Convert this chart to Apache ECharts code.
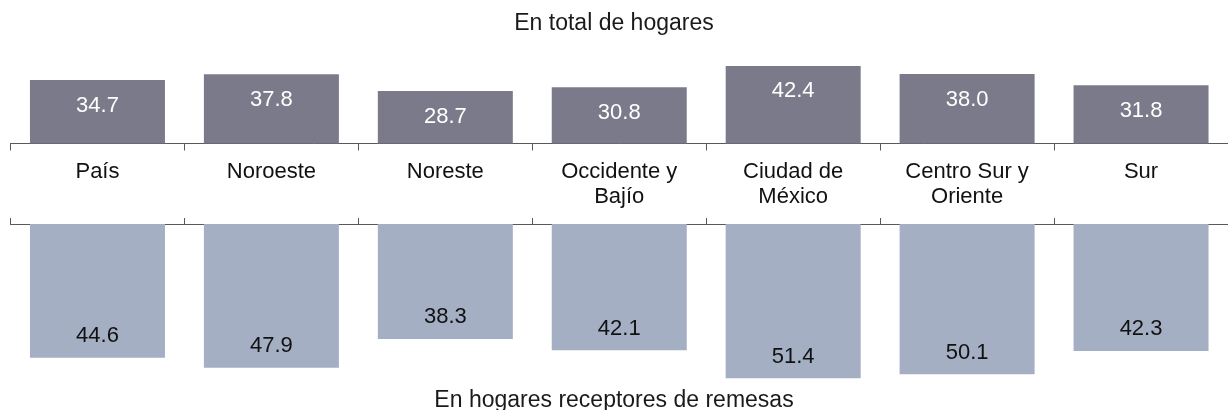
<!DOCTYPE html>
<html>
<head>
<meta charset="utf-8">
<script src="https://cdn.jsdelivr.net/npm/echarts@6/dist/echarts.min.js"></script>
<style>
html,body{margin:0;padding:0;background:#fff;}
#chart{width:1228px;height:410px;}
</style>
</head>
<body>
<div id="chart"></div>
<script>
const categories = ['País', 'Noroeste', 'Noreste', 'Occidente y\nBajío', 'Ciudad de\nMéxico', 'Centro Sur y\nOriente', 'Sur'];
const totalHogares = [34.7, 37.8, 28.7, 30.8, 42.4, 38.0, 31.8];
const hogaresRemesas = [44.6, 47.9, 38.3, 42.1, 51.4, 50.1, 42.3];
const topTitle = 'En total de hogares';
const bottomTitle = 'En hogares receptores de remesas';

const FONT = 'Liberation Sans';
const chart = echarts.init(document.getElementById('chart'), null, {renderer: 'canvas'});
const axisLine = {show: true, lineStyle: {color: '#595959', width: 1}};
chart.setOption({
  animation: false,
  backgroundColor: '#ffffff',
  textStyle: {fontFamily: FONT},
  title: [
    {text: topTitle, left: 'center', top: 7,
     textStyle: {fontFamily: FONT, fontSize: 23, fontWeight: 'normal', color: '#1a1a1a'}},
    {text: bottomTitle, left: 'center', top: 384,
     textStyle: {fontFamily: FONT, fontSize: 23, fontWeight: 'normal', color: '#1a1a1a'}}
  ],
  grid: [
    {left: 10.5, width: 1227, top: 52, height: 91.5},
    {left: 10.5, width: 1227, top: 224, height: 180}
  ],
  xAxis: [
    {type: 'category', gridIndex: 0, data: categories, position: 'bottom',
     axisLine: axisLine,
     axisTick: {show: true, length: 7, lineStyle: {color: '#595959'}},
     axisLabel: {show: true, margin: 16, fontFamily: FONT, fontSize: 22, color: '#111', lineHeight: 25, interval: 0}},
    {type: 'category', gridIndex: 1, data: categories, position: 'top',
     axisLine: axisLine,
     axisTick: {show: true, length: 6, lineStyle: {color: '#595959'}},
     axisLabel: {show: false}}
  ],
  yAxis: [
    {type: 'value', gridIndex: 0, min: 0, max: 50, show: false},
    {type: 'value', gridIndex: 1, min: 0, max: 60, inverse: true, show: false}
  ],
  series: [
    {type: 'bar', xAxisIndex: 0, yAxisIndex: 0, data: totalHogares, barWidth: 135,
     itemStyle: {color: '#7b7a8a'},
     label: {show: true, position: 'insideTop', distance: 14.5, color: '#ffffff',
       fontFamily: FONT, fontSize: 22, formatter: p => p.value.toFixed(1)}},
    {type: 'bar', xAxisIndex: 1, yAxisIndex: 1, data: hogaresRemesas, barWidth: 135,
     itemStyle: {color: '#a4afc3'},
     label: {show: true, position: 'insideBottom', distance: 10.5, color: '#111111',
       fontFamily: FONT, fontSize: 22, formatter: p => p.value.toFixed(1)}}
  ]
});
</script>
</body>
</html>
